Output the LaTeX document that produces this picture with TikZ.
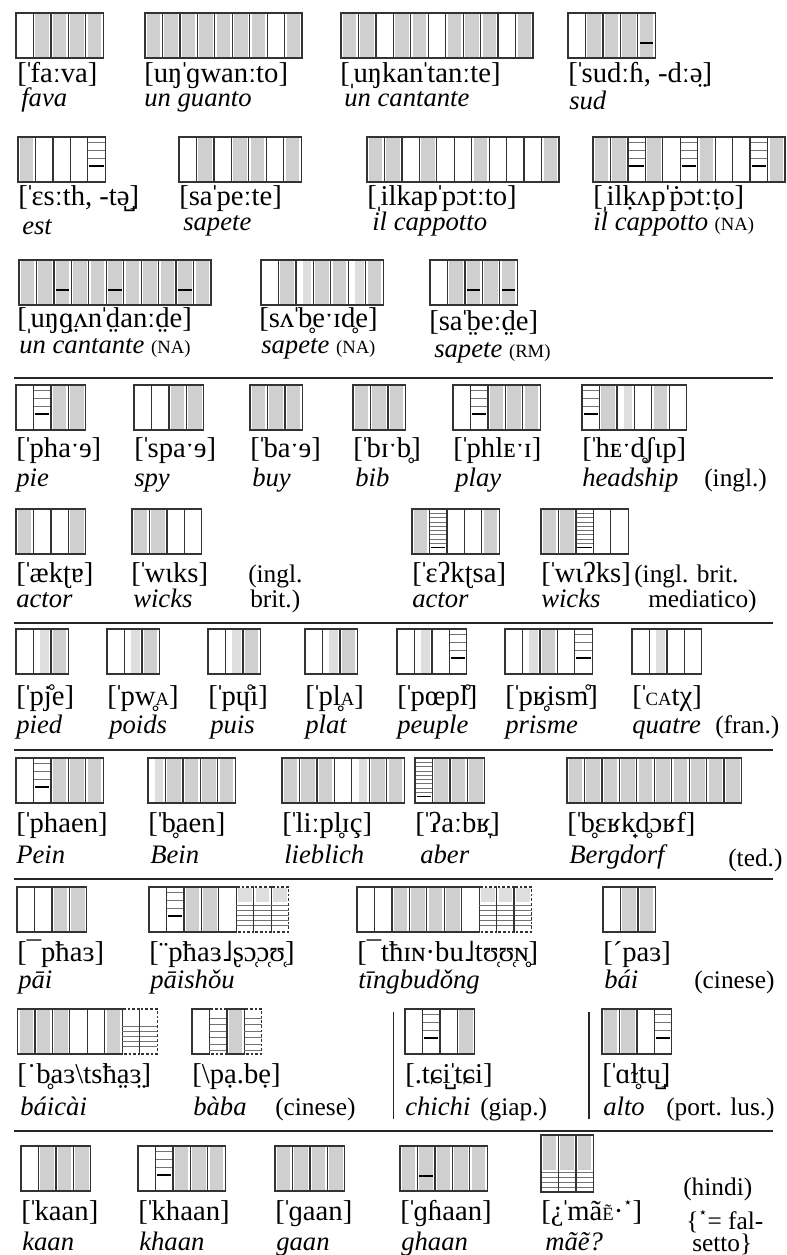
\documentclass[tikz,border=0pt]{standalone}
\usepackage{fontspec}
\setmainfont{Liberation Serif}
\newfontfamily\djv{DejaVu Sans}
\tikzset{
  cellb/.style={draw=black!80, line width=0.9pt},
  cellbd/.style={draw=black!80, line width=0.9pt, dash pattern=on 2pt off 1.5pt},
  shd/.style={fill=black!19},
  shdl/.style={fill=black!13},
  gl/.style={draw=black!55, line width=0.6pt},
  bl/.style={draw=black, line width=1.4pt},
  ipa/.style={anchor=base west, inner sep=0pt, font=\fontsize{21.5}{22}\selectfont},
  ital/.style={anchor=base west, inner sep=0pt, font=\fontsize{20}{22}\selectfont\itshape},
  note/.style={anchor=base west, inner sep=0pt, font=\fontsize{19}{22}\selectfont},
  sepl/.style={draw=black!85, line width=0.8pt},
}
\newcommand\cw{17.45}
\newcommand\chh{45}
\newcommand\st{\kern-0.09em ˈ\kern-0.11em}
\newcommand\sst{\kern-0.09em ˌ\kern-0.11em}
\newcommand\smc[1]{{\upshape\fontsize{14}{14}\selectfont #1}}
\newcommand\fstar{\raisebox{0.45em}{\djv\fontsize{11}{11}\selectfont ⋆}}
\newcommand\onecell[3]{%
  \ifcase#1\relax
  \or \fill[shd] (#2+2,#3+1) rectangle (#2+\cw-2,#3+\chh-1);
  \or \draw[gl] (#2,#3+5) -- (#2+\cw,#3+5) (#2,#3+13.3) -- (#2+\cw,#3+13.3) (#2,#3+21.7) -- (#2+\cw,#3+21.7);
      \draw[bl] (#2+1.5,#3+29) -- (#2+\cw-1.5,#3+29);
  \or \fill[shd] (#2+2,#3+1) rectangle (#2+\cw-2,#3+\chh-1);
      \draw[bl] (#2+2,#3+30) -- (#2+\cw-2,#3+30);
  \or \fill[shdl] (#2+0.4*\cw,#3+1) rectangle (#2+\cw-2,#3+\chh-1);
  \or \foreach \k in {1,...,8} {\draw[gl] (#2,#3+\k*4.3) -- (#2+\cw,#3+\k*4.3);}
      \draw[bl] (#2+1.5,#3+38.5) -- (#2+\cw-1.5,#3+38.5);
  \or \fill[shdl] (#2+2,#3+1) rectangle (#2+\cw-2,#3+15);
      \foreach \k in {18,23,28,33,38} {\draw[gl] (#2,#3+\k) -- (#2+\cw,#3+\k);}
  \or \foreach \k in {17,22,27,32,37} {\draw[gl] (#2,#3+\k) -- (#2+\cw,#3+\k);}
  \or \foreach \k in {9,15.5,22,28.5,35,41} {\draw[gl] (#2,#3+\k) -- (#2+\cw,#3+\k);}
  \fi
  \ifnum#1>5\relax
    \draw[cellbd] (#2,#3) rectangle (#2+\cw,#3+\chh);
  \else
    \draw[cellb] (#2,#3) rectangle (#2+\cw,#3+\chh);
  \fi
}
\newcommand\cells[3]{%
  \foreach \t [count=\i from 0] in {#3} {%
    \pgfmathsetmacro\xx{#1+\i*\cw}%
    \onecell{\t}{\xx}{#2}%
  }%
}
\begin{document}
\begin{tikzpicture}[x=0.75pt,y=-0.75pt]
\useasboundingbox (0,0) rectangle (787,1255);
% ---------- Row 1
\cells{16}{13}{0,1,1,1,1}
\cells{145}{13}{1,1,1,1,1,1,1,0,1}
\cells{341}{13}{1,1,0,1,1,0,1,1,1,0,1}
\cells{568}{13}{0,1,1,1,3}
\node[ipa] (t1a) at (17,83) {[\st faːva]};
\node[ital] (i1a) at (21,107) {fava};
\node[ipa] (t1b) at (144,83) {[uŋ\st ɡwanːto]};
\node[ital] (i1b) at (144,107) {un guanto};
\node[ipa] (t1c) at (340,83) {[\sst uŋkan\st tanːte]};
\node[ital] (i1c) at (344,107) {un cantante};
\node[ipa] (t1d) at (568,83) {[\st sudːɦ, -dːə̤]};
\node[ital] (i1d) at (569,110) {sud};
% ---------- Row 2
\cells{18}{137}{1,0,0,0,2}
\cells{179}{137}{0,1,0,1,1,0,1}
\cells{367}{137}{1,1,0,1,0,0,1,0,0,0,1}
\cells{593}{137}{1,1,2,1,0,2,1,0,0,2,1}
\node[ipa] (t2a) at (18,206) {[\st ɛsːth, -tə̺]};
\node[ital] (i2a) at (22,234) {est};
\node[ipa] (t2b) at (179,206) {[sa\st peːte]};
\node[ital] (i2b) at (183,231) {sapete};
\node[ipa] (t2c) at (367,206) {[\sst ilkap\st pɔtːto]};
\node[ital] (i2c) at (372,231) {il cappotto};
\node[ipa] (t2d) at (593,206) {[\sst ilḳʌp\st ṗɔtːṭo]};
\node[ital] (i2d) at (593,231) {il cappotto \smc{(NA)}};
% ---------- Row 3
\cells{19}{260}{1,1,3,1,1,3,1,1,1,3,1}
\cells{261}{260}{0,1,4,1,1,4,1}
\cells{430}{260}{0,1,3,1,3}
\node[ipa] (t3a) at (17,327) {[\sst uŋɡ̤ʌn\st d̤anːd̤e]};
\node[ital] (i3a) at (19,353) {un cantante \smc{(NA)}};
\node[ipa] (t3b) at (259,327) {[sʌ\st b̥eˑɪd̥e]};
\node[ital] (i3b) at (261,353) {sapete \smc{(NA)}};
\node[ipa] (t3c) at (429,330) {[sa\st b̤eːd̤e]};
\node[ital] (i3c) at (434,357) {sapete \smc{(RM)}};
\coordinate (s1a) at (14,378); \coordinate (s1b) at (773,378);
\draw[sepl] (s1a) -- (s1b);
% ---------- Row 4
\cells{16}{385}{0,2,1,1}
\cells{134}{385}{0,0,1,1}
\cells{250}{385}{1,1,1}
\cells{353}{385}{1,1,1}
\cells{453}{385}{0,2,1,1,1}
\cells{582}{385}{2,1,4,0,1,0}
\node[ipa] (t4a) at (16,457) {[\st phaˑɘ]};
\node[ital] (i4a) at (16,486) {pie};
\node[ipa] (t4b) at (134,457) {[\st spaˑɘ]};
\node[ital] (i4b) at (134,486) {spy};
\node[ipa] (t4c) at (250,457) {[\st baˑɘ]};
\node[ital] (i4c) at (252,486) {buy};
\node[ipa] (t4d) at (353,457) {[\st bɪˑb̥]};
\node[ital] (i4d) at (355,486) {bib};
\node[ipa] (t4e) at (453,457) {[\st phlᴇˑɪ]};
\node[ital] (i4e) at (455,486) {play};
\node[ipa] (t4f) at (582,457) {[\st hᴇˑd̥ʃɩp]};
\node[ital] (i4f) at (582,486) {headship};
\node[note] (n4) at (704,486) {(ingl.)};
% ---------- Row 5
\cells{16}{509}{1,0,0,1}
\cells{132}{509}{1,1,0,0}
\cells{412}{509}{1,5,0,0,1}
\cells{541}{509}{1,1,5,0,0}
\node[ipa] (t5a) at (16,582) {[\st ækʈɐ]};
\node[ital] (i5a) at (16,607) {actor};
\node[ipa] (t5b) at (131,582) {[\st wɩks]};
\node[ital] (i5b) at (133,607) {wicks};
\node[note] (n5a) at (248,582) {(ingl.};
\node[note] (n5b) at (250,607) {brit.)};
\node[ipa] (t5c) at (412,582) {[\st ɛʔkʈsa]};
\node[ital] (i5c) at (412,607) {actor};
\node[ipa] (t5d) at (541,582) {[\st wɩʔks]};
\node[ital] (i5d) at (541,607) {wicks};
\node[note] (n5c) at (634,582) {(ingl. brit.};
\node[note] (n5d) at (648,607) {mediatico)};
\coordinate (s2a) at (14,623); \coordinate (s2b) at (773,623);
\draw[sepl] (s2a) -- (s2b);
% ---------- Row 6
\cells{16}{629}{0,4,1}
\cells{107}{629}{0,4,1}
\cells{208}{629}{0,4,1}
\cells{305}{629}{0,4,1}
\cells{397}{629}{0,4,0,2}
\cells{505}{629}{0,4,1,0,2}
\cells{632}{629}{0,4,0,0}
\node[ipa] (t6a) at (16,705) {[\st pj̊e]};
\node[ital] (i6a) at (16,733) {pied};
\node[ipa] (t6b) at (107,705) {[\st pw̥\smc{A}]};
\node[ital] (i6b) at (109,733) {poids};
\node[ipa] (t6c) at (208,705) {[\st pɥ̊i]};
\node[ital] (i6c) at (210,733) {puis};
\node[ipa] (t6d) at (305,705) {[\st pl̥\smc{A}]};
\node[ital] (i6d) at (305,733) {plat};
\node[ipa] (t6e) at (397,705) {[\st pœpl̊]};
\node[ital] (i6e) at (397,733) {peuple};
\node[ipa] (t6f) at (505,705) {[\st pʁ̥ism̊]};
\node[ital] (i6f) at (505,733) {prisme};
\node[ipa] (t6g) at (632,705) {[\st\smc{CA}tχ]};
\node[ital] (i6g) at (632,733) {quatre};
\node[note] (n6) at (715,733) {(fran.)};
\coordinate (s3a) at (14,750); \coordinate (s3b) at (773,750);
\draw[sepl] (s3a) -- (s3b);
% ---------- Row 7
\cells{16}{758}{0,2,1,1,1}
\cells{148}{758}{4,1,1,1,1}
\cells{282}{758}{1,1,1,0,4,1,1}
\cells{415}{758}{5,1,1,1}
\cells{567}{758}{1,1,1,1,1,1,1,1,1,1}
\node[ipa] (t7a) at (16,832) {[\st phaen]};
\node[ital] (i7a) at (16,863) {Pein};
\node[ipa] (t7b) at (148,832) {[\st b̥aen]};
\node[ital] (i7b) at (150,863) {Bein};
\node[ipa] (t7c) at (282,832) {[\st liːpl̥ɪç]};
\node[ital] (i7c) at (284,863) {lieblich};
\node[ipa] (t7d) at (415,832) {[\st ʔaːbʁ̞]};
\node[ital] (i7d) at (420,863) {aber};
\node[ipa] (t7e) at (567,832) {[\st b̥ɛʁk̟d̥ɔʁf]};
\node[ital] (i7e) at (569,863) {Bergdorf};
\node[note] (n7) at (728,866) {(ted.)};
\coordinate (s4a) at (14,879); \coordinate (s4b) at (773,879);
\draw[sepl] (s4a) -- (s4b);
% ---------- Row 8
\cells{17}{887}{0,0,1,1}
\cells{149}{887}{0,2,1,1,0,6,6,6}
\cells{357}{887}{0,0,1,1,1,1,0,6,6,6}
\cells{603}{887}{0,1,1}
\node[ipa] (t8a) at (17,961) {[¯pħaɜ]};
\node[ital] (i8a) at (18,988) {pāi};
\node[ipa] (t8b) at (149,961) {[¨pħaɜ˩ʂɔ̜ɔ̜ʊ̜]};
\node[ital] (i8b) at (150,988) {pāishǒu};
\node[ipa] (t8c) at (357,961) {[¯tħɪɴ·bu˩tʊ̜ʊ̜ɴ̥]};
\node[ital] (i8c) at (358,988) {tīngbudǒng};
\node[ipa] (t8d) at (603,961) {[ˊpaɜ]};
\node[ital] (i8d) at (604,988) {bái};
\node[note] (n8) at (694,988) {(cinese)};
% ---------- Row 9
\cells{17.5}{1009}{1,1,1,0,0,1,7,7}
\cells{192}{1009}{0,8,1,8}
\cells{405}{1009}{0,2,0,1}
\cells{602}{1009}{1,1,0,2}
\node[ipa] (t9a) at (17,1083) {[˙b̥aɜ\textbackslash tsħa̤ɜ̤]};
\node[ital] (i9a) at (20,1115) {báicài};
\node[ipa] (t9b) at (192,1083) {[\textbackslash pạ.bẹ]};
\node[ital] (i9b) at (193,1115) {bàba};
\node[note] (n9a) at (275,1115) {(cinese)};
\node[ipa] (t9c) at (405,1083) {[.tɕi̺\st tɕi]};
\node[ital] (i9c) at (405,1115) {chichi};
\node[note] (n9b) at (480,1115) {(giap.)};
\node[ipa] (t9d) at (602,1083) {[\st ɑɫ̥tu̺]};
\node[ital] (i9d) at (603,1115) {alto};
\node[note] (n9c) at (666,1115) {(port. lus.)};
\coordinate (v1a) at (393.5,1012); \coordinate (v1b) at (393.5,1119);
\coordinate (v2a) at (589,1012); \coordinate (v2b) at (589,1119);
\draw[sepl] (v1a) -- (v1b) (v2a) -- (v2b);
\coordinate (s5a) at (14,1131); \coordinate (s5b) at (773,1131);
\draw[sepl] (s5a) -- (s5b);
% ---------- Row 10
\cells{21}{1146}{0,1,1,1}
\cells{138}{1146}{0,2,1,1,1}
\cells{275}{1146}{1,1,1,1}
\cells{400}{1146}{1,3,1,1,1}
\foreach \k in {0,1,2} {
  \pgfmathsetmacro\xx{541+\k*\cw}
  \fill[shd] (\xx+2,1136) rectangle (\xx+\cw-2,1170);
  \foreach \m in {37,42,47,52} {\draw[gl] (\xx,1135+\m) -- (\xx+\cw,1135+\m);}
  \draw[cellb] (\xx,1135) rectangle (\xx+\cw,1192);
}
\node[ipa] (t10a) at (21,1220) {[\st kaan]};
\node[ital] (i10a) at (22,1250) {kaan};
\node[ipa] (t10b) at (138,1220) {[\st khaan]};
\node[ital] (i10b) at (139,1250) {khaan};
\node[ipa] (t10c) at (275,1220) {[\st ɡaan]};
\node[ital] (i10c) at (276,1250) {gaan};
\node[ipa] (t10d) at (400,1220) {[\st ɡɦaan]};
\node[ital] (i10d) at (401,1250) {ghaan};
\node[ipa] (t10e) at (541,1220) {[¿\st mã\smc{Ẽ}·\fstar]};
\node[ital] (i10e) at (545,1250) {mãẽ?};
\node[note] (n10a) at (683,1195) {(hindi)};
\node[note] (n10b) at (686,1229) {\{\fstar= fal-};
\node[note] (n10c) at (692,1251) {setto\}};
\end{tikzpicture}
\end{document}
